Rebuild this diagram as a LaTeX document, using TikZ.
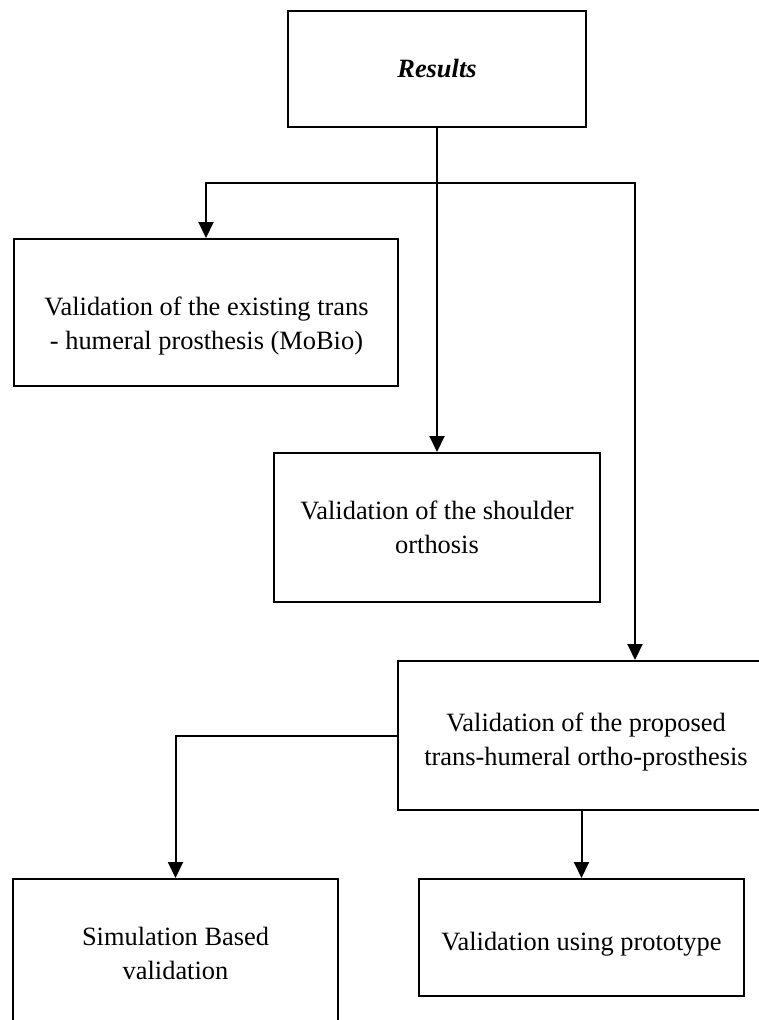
\documentclass[tikz,border=0pt]{standalone}
\usepackage{fontspec}
\setmainfont{Liberation Serif}
\usetikzlibrary{arrows.meta}
\begin{document}
\begin{tikzpicture}[x=1pt,y=-1pt,
  box/.style={draw=black,line width=2pt,fill=white,inner sep=0pt,minimum width=#1},
  txt/.style={align=center,inner sep=0pt,font=\fontsize{26.4}{34}\selectfont},
  conn/.style={line width=2pt},
  arr/.style={conn,-{Triangle[width=15pt,length=16pt]}}]
\useasboundingbox (0,0) rectangle (758,1020);
% boxes
\node[box=298pt,minimum height=116pt] (res) at (437,69) {};
\node[box=384pt,minimum height=147pt] (exist) at (206,312.5) {};
\node[box=326pt,minimum height=149pt] (shoulder) at (437,527.5) {};
\node[box=374pt,minimum height=149pt] (big) at (585,735.5) {};
\node[box=325pt,minimum height=149pt] (sim) at (175.5,953.5) {};
\node[box=325pt,minimum height=117pt] (proto) at (581.5,937.5) {};
% texts
\node[txt,font=\fontsize{26.4}{34}\selectfont\bfseries\itshape] (tres) at (437,71) {\strut Results};
\node[txt] (texist) at (206.5,326) {\strut Validation of the existing trans\\\strut - humeral prosthesis (MoBio)};
\node[txt] (tshoulder) at (437,529.5) {\strut Validation of the shoulder\\\strut orthosis};
\node[txt] (tbig) at (586,742) {\strut Validation of the proposed\\\strut trans-humeral ortho-prosthesis};
\node[txt] (tsim) at (175.5,956) {\strut Simulation Based\\\strut validation};
\node[txt] (tproto) at (581.5,943.5) {\strut Validation using prototype};
% connectors
\coordinate (j) at (437,183);
\coordinate (rb) at (635,183);
\draw[arr] (res.south) -- (shoulder.north);
\draw[arr] (j) -| (exist.north);
\draw[arr] (j) -- (rb) -- (rb |- big.north);
\draw[arr] (big.west) -| (sim.north);
\draw[arr] (proto.north |- big.south) -- (proto.north);
\end{tikzpicture}
\end{document}
